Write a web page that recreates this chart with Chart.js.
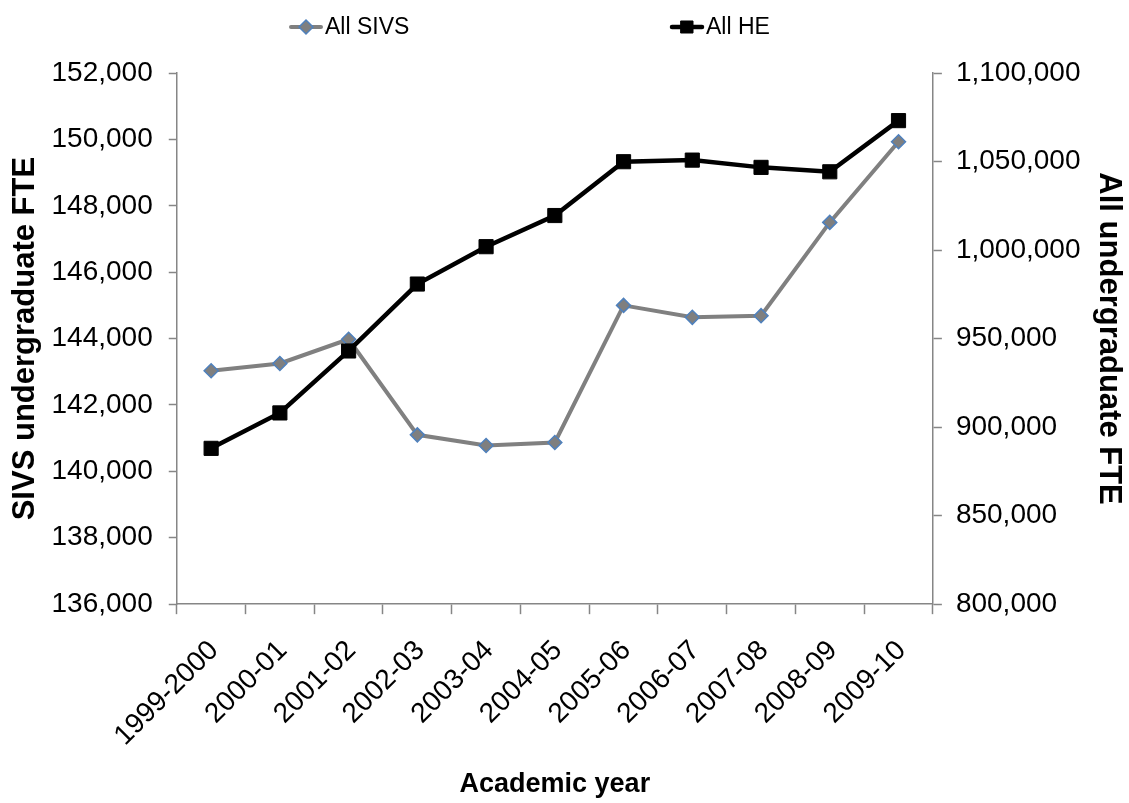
<!DOCTYPE html>
<html>
<head>
<meta charset="utf-8">
<title>SIVS and all HE undergraduate FTE</title>
<script src="https://cdn.jsdelivr.net/npm/chart.js@4.4.0/dist/chart.umd.min.js"></script>
<style>
  html, body { margin: 0; padding: 0; background: #fff; }
  #wrap { width: 1129px; height: 803px; }
</style>
</head>
<body>
<div id="wrap"><canvas id="chart" width="1129" height="803"></canvas></div>
<script>
const years = ['1999-2000', '2000-01', '2001-02', '2002-03', '2003-04', '2004-05',
  '2005-06', '2006-07', '2007-08', '2008-09', '2009-10']
const sivsFte = [143030, 143250, 143980, 141100, 140780, 140870,
  145000, 144640, 144690, 147500, 149930]
const allHeFte = [888000, 908000, 943000, 980800, 1001900, 1019500,
  1049900, 1050800, 1046700, 1044200, 1073100]
const sivsTicks = { min: 136000, max: 152000, step: 2000 }
const heTicks = { min: 800000, max: 1100000, step: 50000 }

const FONT = "'Liberation Sans', Arial, sans-serif"
const AXIS_GREY = '#868686'
const fmt = v => Number(v).toLocaleString('en-US')

// Excel style legend: items spread out across the top
const spreadLegend = {
  id: 'spreadLegend',
  afterDraw(chart) {
    const ctx = chart.ctx
    const slots = [289, 670]
    const y = 27
    ctx.save()
    chart.data.datasets.forEach((ds, i) => {
      const x = slots[i]
      ctx.strokeStyle = ds.borderColor
      ctx.lineWidth = ds.borderWidth
      ctx.lineCap = 'round'
      ctx.beginPath()
      ctx.moveTo(x + 2, y)
      ctx.lineTo(x + 32, y)
      ctx.stroke()
      const cx = x + 17
      const r = ds.pointRadius
      ctx.fillStyle = ds.pointBackgroundColor
      ctx.strokeStyle = ds.pointBorderColor
      ctx.lineWidth = ds.pointBorderWidth
      ctx.beginPath()
      if (ds.pointStyle === 'rectRot') {
        ctx.moveTo(cx, y - r)
        ctx.lineTo(cx + r, y)
        ctx.lineTo(cx, y + r)
        ctx.lineTo(cx - r, y)
        ctx.closePath()
      } else {
        const s = r * Math.SQRT1_2 * 0.85
        ctx.rect(cx - s, y - s, 2 * s, 2 * s)
      }
      ctx.fill()
      ctx.stroke()
      ctx.fillStyle = '#000'
      ctx.font = '23px ' + FONT
      ctx.textBaseline = 'middle'
      ctx.textAlign = 'left'
      ctx.fillText(ds.label, x + 36, y + 1)
    })
    ctx.restore()
  }
}

const ctx = document.getElementById('chart').getContext('2d')
new Chart(ctx, {
  type: 'line',
  data: {
    labels: years,
    datasets: [
      {
        label: 'All SIVS',
        data: sivsFte,
        yAxisID: 'ySivs',
        order: 1,
        borderColor: '#808080',
        borderWidth: 4,
        pointStyle: 'rectRot',
        pointRadius: 7,
        pointBackgroundColor: '#7f7f7f',
        pointBorderColor: '#4f81bd',
        pointBorderWidth: 1.5,
        tension: 0
      },
      {
        label: 'All HE',
        data: allHeFte,
        yAxisID: 'yHe',
        order: 0,
        borderColor: '#000000',
        borderWidth: 4.5,
        pointStyle: 'rect',
        pointRadius: 10,
        pointBackgroundColor: '#000000',
        pointBorderColor: '#000000',
        pointBorderWidth: 1,
        tension: 0
      }
    ]
  },
  options: {
    responsive: false,
    animation: false,
    layout: { padding: { top: 73, bottom: 0, left: 0, right: 0 } },
    plugins: {
      legend: { display: false },
      tooltip: { enabled: false }
    },
    scales: {
      x: {
        offset: true,
        border: { color: AXIS_GREY, width: 1.5 },
        grid: { offset: true, drawOnChartArea: false, tickLength: 10, color: AXIS_GREY, tickWidth: 1.5 },
        ticks: {
          color: '#000',
          font: { family: FONT, size: 28 },
          minRotation: 45,
          maxRotation: 45,
          autoSkip: false,
          padding: 20,
          labelOffset: 3
        },
        title: {
          display: true,
          text: 'Academic year',
          color: '#000',
          font: { family: FONT, size: 27, weight: 'bold' },
          padding: { top: -4, bottom: 2 }
        }
      },
      ySivs: {
        position: 'left',
        min: sivsTicks.min,
        max: sivsTicks.max,
        border: { color: AXIS_GREY, width: 1.5 },
        grid: { drawOnChartArea: false, tickLength: 8, color: AXIS_GREY, tickWidth: 1.5 },
        ticks: {
          stepSize: sivsTicks.step,
          color: '#000',
          font: { family: FONT, size: 28 },
          padding: 16,
          callback: fmt
        },
        title: {
          display: true,
          text: 'SIVS undergraduate FTE',
          color: '#000',
          font: { family: FONT, size: 31, weight: 'bold', lineHeight: 1.05 },
          padding: { top: 9, bottom: -6 }
        }
      },
      yHe: {
        position: 'right',
        min: heTicks.min,
        max: heTicks.max,
        border: { color: AXIS_GREY, width: 1.5 },
        grid: { drawOnChartArea: false, tickLength: 9, color: AXIS_GREY, tickWidth: 1.5 },
        ticks: {
          stepSize: heTicks.step,
          color: '#000',
          font: { family: FONT, size: 28 },
          padding: 14,
          callback: fmt
        },
        title: {
          display: true,
          text: 'All undergraduate FTE',
          color: '#000',
          font: { family: FONT, size: 31, weight: 'bold', lineHeight: 1.05 },
          padding: { top: 4, bottom: -2 }
        }
      }
    }
  },
  plugins: [spreadLegend]
})
</script>
</body>
</html>
